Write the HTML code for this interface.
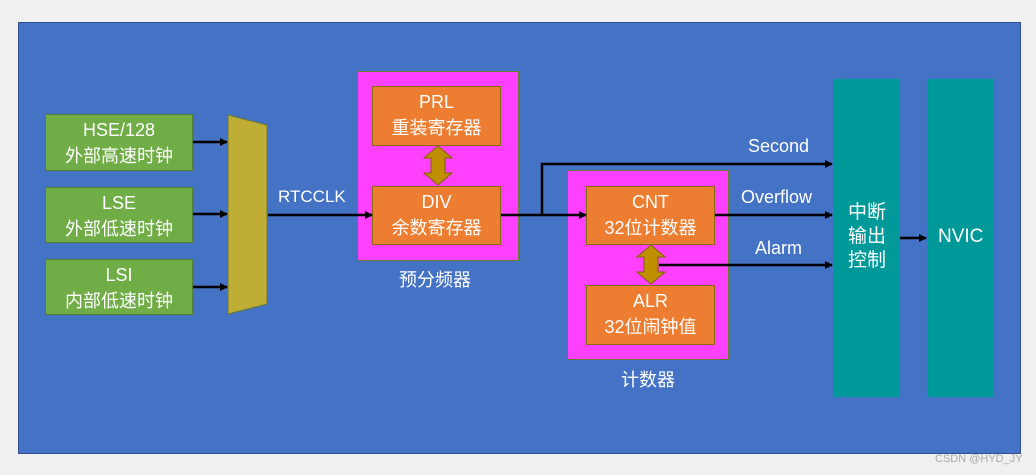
<!DOCTYPE html>
<html><head><meta charset="utf-8"><style>
body{margin:0;width:1036px;height:475px;background:#f0f0f0;position:relative;overflow:hidden;font-family:"Liberation Sans","Noto Sans CJK SC",sans-serif;}
.a{position:absolute;box-sizing:border-box;}
.g{background:#70ad47;border:1px solid #507e32;color:#fff;font-size:18px;line-height:26px;text-align:center;padding-top:2px}
.o{background:#ed7d31;border:1px solid #8a6a10;color:#fff;font-size:18px;line-height:26px;text-align:center;padding-top:2px}
.p{background:#ff40ff;border:1px solid #6a7a30}
.t{background:#009999}
.l{color:#fff;font-size:18px;white-space:nowrap}
</style></head><body>
<div class="a" style="left:18px;top:22px;width:1003px;height:432px;background:#4472c4;border:1px solid #2f528f"></div>
<div class="a g" style="left:45px;top:114px;width:148px;height:57px">HSE/128<br>外部高速时钟</div>
<div class="a g" style="left:45px;top:187px;width:148px;height:56px">LSE<br>外部低速时钟</div>
<div class="a g" style="left:45px;top:259px;width:148px;height:56px">LSI<br>内部低速时钟</div>
<div class="a p" style="left:357px;top:71px;width:162px;height:190px"></div>
<div class="a o" style="left:372px;top:86px;width:129px;height:60px">PRL<br>重装寄存器</div>
<div class="a o" style="left:372px;top:186px;width:129px;height:59px">DIV<br>余数寄存器</div>
<div class="a l" style="left:399px;top:266px">预分频器</div>
<div class="a p" style="left:567px;top:170px;width:162px;height:190px"></div>
<div class="a o" style="left:586px;top:186px;width:129px;height:59px">CNT<br>32位计数器</div>
<div class="a o" style="left:586px;top:285px;width:129px;height:60px">ALR<br>32位闹钟值</div>
<div class="a l" style="left:621px;top:366px">计数器</div>
<div class="a t" style="left:833px;top:79px;width:67px;height:318px"></div>
<div class="a t" style="left:927px;top:79px;width:67px;height:318px"></div>
<div class="a l" style="left:848px;top:201px;line-height:24px;font-size:19px">中断<br>输出<br>控制</div>
<div class="a l" style="left:938px;top:226px;font-size:19px">NVIC</div>
<div class="a l" style="left:278px;top:187px;font-size:17px">RTCCLK</div>
<div class="a l" style="left:748px;top:136px;font-size:18px">Second</div>
<div class="a l" style="left:741px;top:187px;font-size:18px">Overflow</div>
<div class="a l" style="left:755px;top:238px;font-size:18px">Alarm</div>
<div class="a" style="left:935px;top:453px;font-size:11px;color:#aaa">CSDN @HYD_JY</div>
<svg class="a" style="left:0;top:0" width="1036" height="475">
<defs><marker id="m" markerWidth="8" markerHeight="8" refX="7" refY="4" orient="auto" markerUnits="userSpaceOnUse"><path d="M0,0 L8,4 L0,8z" fill="#000"/></marker></defs>
<polygon points="228,115 267,125 267,304 228,314" fill="#bfad35" stroke="#6a7a30"/>
<g stroke="#000" stroke-width="2.5" fill="none" marker-end="url(#m)">
<line x1="193" y1="142" x2="227" y2="142"/>
<line x1="193" y1="214" x2="227" y2="214"/>
<line x1="193" y1="287" x2="227" y2="287"/>
<line x1="268" y1="215" x2="372" y2="215"/>
<line x1="501" y1="215" x2="586" y2="215"/>
<polyline points="542,215 542,164 832,164"/>
<line x1="715" y1="215" x2="832" y2="215"/>
<line x1="659" y1="265" x2="832" y2="265"/>
<line x1="900" y1="238" x2="926" y2="238"/>
</g>
<path d="M438,146 L452,158 L445,158 L445,173 L452,173 L438,185 L424,173 L431,173 L431,158 L424,158z" fill="#bf8f00" stroke="#7f6000"/>
<path d="M651,245 L665,257 L658,257 L658,272 L665,272 L651,284 L637,272 L644,272 L644,257 L637,257z" fill="#bf8f00" stroke="#7f6000"/>
</svg>
</body></html>
